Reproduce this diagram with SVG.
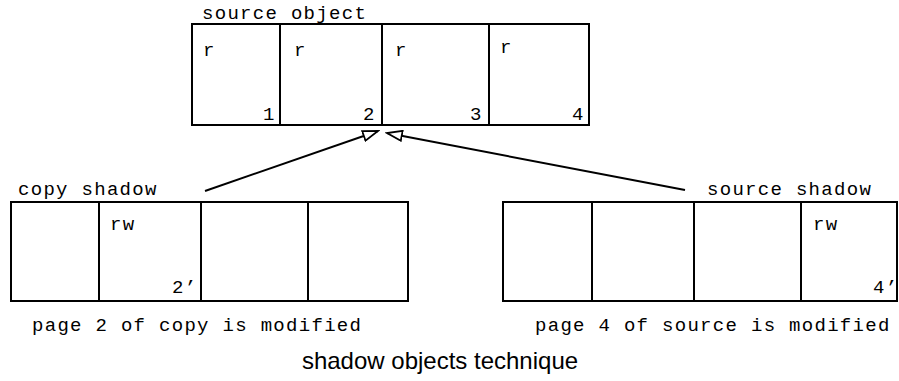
<svg xmlns="http://www.w3.org/2000/svg" width="899" height="381" viewBox="0 0 899 381">
  <style>
    .box { fill: #fff; stroke: #000; stroke-width: 2; }
    .div { stroke: #000; stroke-width: 2; }
    .mono { font-family: "Liberation Mono", "Courier New", monospace; font-size: 19px; letter-spacing: 1.3px; fill: #000; }
    .title { font-family: "Liberation Sans", Arial, sans-serif; font-size: 24px; fill: #000; }
    .conn { stroke: #000; stroke-width: 2; fill: none; marker-end: url(#head); }
  </style>
  <defs>
    <marker id="head" markerWidth="18" markerHeight="12" refX="16" refY="6" orient="auto" markerUnits="userSpaceOnUse">
      <path d="M1,1 L16,6 L1,11 Z" fill="#fff" stroke="#000" stroke-width="1.8"/>
    </marker>
  </defs>

  <rect width="899" height="381" fill="#fff"/>

  <g id="source-object">
    <text class="mono" x="202" y="19">source object</text>
    <rect class="box" x="192" y="24" width="397" height="101"/>
    <line class="div" x1="280" y1="24" x2="280" y2="125"/>
    <line class="div" x1="382" y1="24" x2="382" y2="125"/>
    <line class="div" x1="489" y1="24" x2="489" y2="125"/>
    <text class="mono" x="203" y="56">r</text>
    <text class="mono" x="294" y="56">r</text>
    <text class="mono" x="395" y="56">r</text>
    <text class="mono" x="500" y="53">r</text>
    <text class="mono" x="263" y="120">1</text>
    <text class="mono" x="363" y="120">2</text>
    <text class="mono" x="470" y="120">3</text>
    <text class="mono" x="572" y="120">4</text>
  </g>

  <g id="copy-shadow">
    <text class="mono" x="18" y="195">copy shadow</text>
    <rect class="box" x="11" y="202" width="397" height="99"/>
    <line class="div" x1="99" y1="202" x2="99" y2="301"/>
    <line class="div" x1="201" y1="202" x2="201" y2="301"/>
    <line class="div" x1="308" y1="202" x2="308" y2="301"/>
    <text class="mono" x="110" y="230">rw</text>
    <text class="mono" x="172" y="293">2’</text>
    <text class="mono" x="32" y="331">page 2 of copy is modified</text>
  </g>

  <g id="source-shadow">
    <text class="mono" x="707" y="195">source shadow</text>
    <rect class="box" x="503" y="202" width="394" height="99"/>
    <line class="div" x1="592" y1="202" x2="592" y2="301"/>
    <line class="div" x1="694" y1="202" x2="694" y2="301"/>
    <line class="div" x1="801" y1="202" x2="801" y2="301"/>
    <text class="mono" x="813" y="230">rw</text>
    <text class="mono" x="873" y="293">4’</text>
    <text class="mono" x="535" y="331">page 4 of source is modified</text>
  </g>

  <g id="connectors">
    <line class="conn" x1="205" y1="191" x2="378" y2="131"/>
    <line class="conn" x1="685" y1="190" x2="387" y2="133"/>
  </g>

  <text class="title" x="440" y="369" text-anchor="middle">shadow objects technique</text>
</svg>
